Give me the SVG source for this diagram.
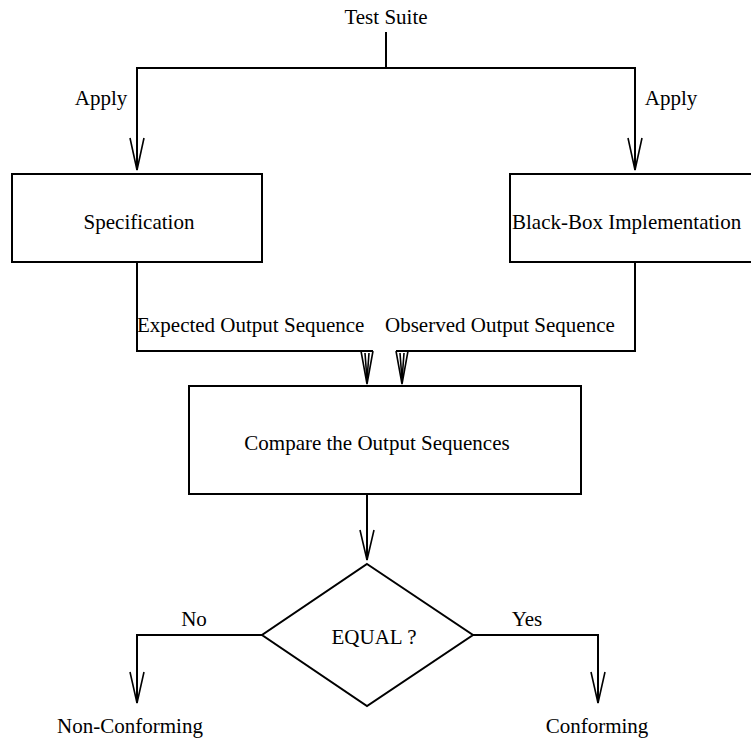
<svg xmlns="http://www.w3.org/2000/svg" width="751" height="738" viewBox="0 0 751 738">
  <style>
    .box { fill: none; stroke: #000; stroke-width: 2; }
    .line { fill: none; stroke: #000; stroke-width: 2; }
    .head { fill: none; stroke: #000; stroke-width: 1.6; stroke-linejoin: miter; }
    .mid { text-anchor: middle; }
  </style>
  <rect width="751" height="738" fill="#fff"/>

  <g font-family="'Liberation Serif', 'Times New Roman', Times, 'DejaVu Serif', serif" font-size="21" fill="#000">
  <!-- connectors -->
  <g id="connectors">
    <!-- test suite split -->
    <polyline class="line" points="386,32 386,68"/>
    <polyline class="line" points="137,170 137,68 635,68 635,170"/>
    <polyline class="head" points="130,138 137,170 144,138"/>
    <polyline class="head" points="628,138 635,170 642,138"/>
    <text x="101" y="105" class="mid">Apply</text>
    <text x="671" y="105" class="mid">Apply</text>

    <!-- outputs into comparison -->
    <polyline class="line" points="137,262 137,351 373,351"/>
    <polyline class="line" points="635,262 635,351 396,351"/>
    <polyline class="head" points="361,351 367,384 373,351"/>
    <polyline class="head" points="365,353 367,380 369,353"/>
    <polyline class="head" points="396,351 402,384 408,351"/>
    <polyline class="head" points="400,353 402,380 404,353"/>
    <text x="137" y="332">Expected Output Sequence</text>
    <text x="385" y="332">Observed Output Sequence</text>

    <!-- comparison into decision -->
    <polyline class="line" points="367,494 367,560"/>
    <polyline class="head" points="360,530 367,560 374,530"/>

    <!-- decision outcomes -->
    <polyline class="line" points="262,635 137,635 137,703"/>
    <polyline class="line" points="473,635 598,635 598,703"/>
    <polyline class="head" points="130,672 137,703 144,672"/>
    <polyline class="head" points="591,672 598,703 605,672"/>
    <text x="194" y="626" class="mid">No</text>
    <text x="527" y="626" class="mid">Yes</text>
  </g>

  <g id="test-suite">
    <text x="386" y="24" class="mid">Test Suite</text>
  </g>

  <g id="specification">
    <rect class="box" x="12" y="174" width="250" height="88"/>
    <text x="139" y="229" class="mid">Specification</text>
  </g>

  <g id="implementation">
    <rect class="box" x="510" y="174" width="250" height="88"/>
    <text x="512" y="229">Black-Box Implementation</text>
  </g>

  <g id="compare">
    <rect class="box" x="189" y="386" width="392" height="108"/>
    <text x="377" y="450" class="mid">Compare the Output Sequences</text>
  </g>

  <g id="equal">
    <polygon class="box" points="367,564 473,635 367,706 262,635"/>
    <text x="374" y="644" class="mid">EQUAL ?</text>
  </g>

  <g id="non-conforming">
    <text x="130" y="733" class="mid">Non-Conforming</text>
  </g>

  <g id="conforming">
    <text x="597" y="733" class="mid">Conforming</text>
  </g>
  </g>
</svg>
